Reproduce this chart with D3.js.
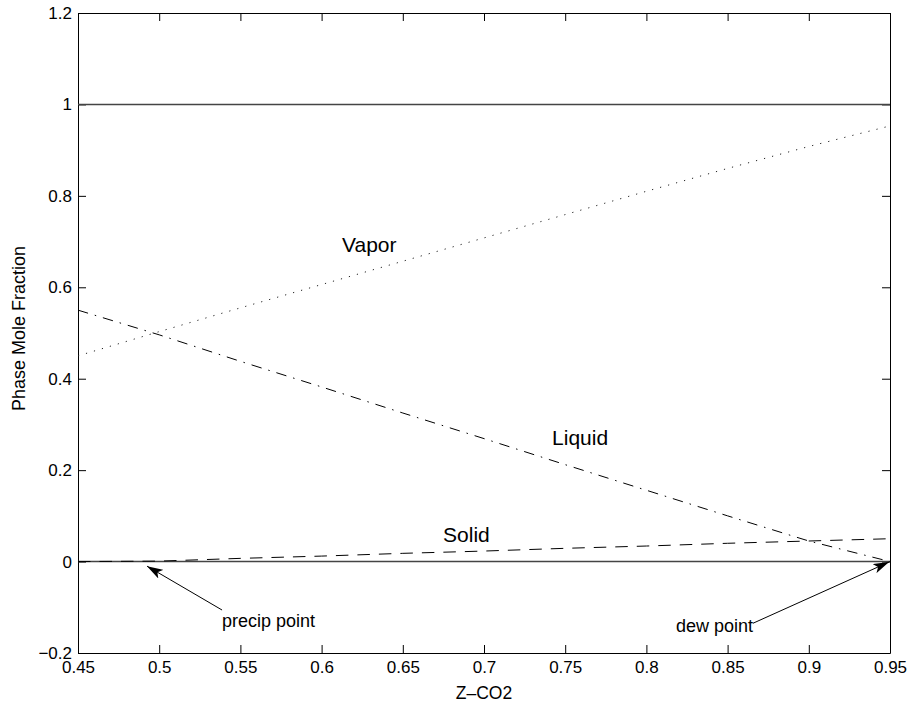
<!DOCTYPE html>
<html>
<head>
<meta charset="utf-8">
<script src="https://cdn.jsdelivr.net/npm/d3@7"></script>
<style>
  body { margin: 0; background: #fff; }
  text { font-family: "Liberation Sans", Arial, Helvetica, sans-serif; }
</style>
</head>
<body>
<script>
// phase split vs overall CO2 mole fraction
var zCO2 = [0.45, 0.50, 0.55, 0.60, 0.65, 0.70, 0.75, 0.80, 0.85, 0.90, 0.95];
var vapor = [0.450, 0.503, 0.555, 0.606, 0.657, 0.708, 0.759, 0.810, 0.860, 0.908, 0.953];
var liquid = [0.550, 0.496, 0.438, 0.382, 0.325, 0.269, 0.212, 0.156, 0.100, 0.045, 0.000];
var solid = [0.000, 0.001, 0.007, 0.012, 0.018, 0.023, 0.029, 0.034, 0.040, 0.045, 0.050];
var refLines = [0, 1];
var xTicks = [0.45, 0.5, 0.55, 0.6, 0.65, 0.7, 0.75, 0.8, 0.85, 0.9, 0.95];
var yTicks = [-0.2, 0, 0.2, 0.4, 0.6, 0.8, 1, 1.2];

var W = 910, H = 702;
var m = {left: 78, right: 20, top: 13, bottom: 49};

var svg = d3.select("body").append("svg")
  .attr("width", W).attr("height", H);

var x = d3.scaleLinear().domain([0.45, 0.95]).range([m.left, W - m.right]);
var y = d3.scaleLinear().domain([-0.2, 1.2]).range([H - m.bottom, m.top]);

var fmtY = function(d) { return d < 0 ? "\u2212" + Math.abs(d) : String(d); };

// axes, ticks pointing inward on all four sides
var gx = svg.append("g").attr("transform", "translate(0," + (H - m.bottom) + ")")
  .call(d3.axisBottom(x).tickValues(xTicks).tickFormat(d3.format("")).tickSizeInner(-8).tickSizeOuter(0).tickPadding(8));
var gy = svg.append("g").attr("transform", "translate(" + m.left + ",0)")
  .call(d3.axisLeft(y).tickValues(yTicks).tickFormat(fmtY).tickSizeInner(-8).tickSizeOuter(0).tickPadding(6));
svg.append("g").attr("transform", "translate(0," + m.top + ")")
  .call(d3.axisTop(x).tickValues(xTicks).tickFormat("").tickSizeInner(-8).tickSizeOuter(0));
svg.append("g").attr("transform", "translate(" + (W - m.right) + ",0)")
  .call(d3.axisRight(y).tickValues(yTicks).tickFormat("").tickSizeInner(-8).tickSizeOuter(0));

svg.selectAll(".domain, .tick line").attr("stroke", "#000").attr("stroke-width", 1);
svg.selectAll(".tick text").attr("font-size", 17).attr("fill", "#000")
  .attr("font-family", "'Liberation Sans', Arial, sans-serif");

// reference lines at 0 and 1
svg.selectAll(".ref").data(refLines).enter().append("line")
  .attr("x1", x(0.45)).attr("x2", x(0.95))
  .attr("y1", function(d) { return y(d); }).attr("y2", function(d) { return y(d); })
  .attr("stroke", "#444").attr("stroke-width", 1.5);

var series = [
  {vals: vapor, dash: "1.2,7.1", color: "#222", w: 1},
  {vals: liquid, dash: "10.5,7,1.5,7", color: "#000", w: 1},
  {vals: solid, dash: "12.5,9", color: "#000", w: 1}
];
var line = d3.line().x(function(d) { return x(d[0]); }).y(function(d) { return y(d[1]); });
series.forEach(function(s) {
  svg.append("path")
    .datum(zCO2.map(function(z, i) { return [z, s.vals[i]]; }))
    .attr("d", line)
    .attr("fill", "none")
    .attr("stroke", s.color)
    .attr("stroke-width", s.w)
    .attr("stroke-dasharray", s.dash);
});

// curve labels
var labels = [
  {t: "Vapor", z: 0.6126, v: 0.677},
  {t: "Liquid", z: 0.7419, v: 0.255},
  {t: "Solid", z: 0.6748, v: 0.043}
];
svg.selectAll(".lab").data(labels).enter().append("text")
  .attr("x", function(d) { return x(d.z); })
  .attr("y", function(d) { return y(d.v); })
  .attr("font-size", 21)
  .text(function(d) { return d.t; });

// annotations with arrows
svg.append("defs").append("marker")
  .attr("id", "head").attr("viewBox", "0 0 16 10")
  .attr("refX", 16).attr("refY", 5)
  .attr("markerWidth", 16).attr("markerHeight", 10)
  .attr("markerUnits", "userSpaceOnUse")
  .attr("orient", "auto")
  .append("path").attr("d", "M0,0 L16,5 L0,10 L4,5 Z").attr("fill", "#000");

var notes = [
  {t: "precip point", tz: 0.5387, tv: -0.143, fz: 0.5387, fv: -0.106, hz: 0.4925, hv: -0.010},
  {t: "dew point", tz: 0.8182, tv: -0.154, fz: 0.8656, fv: -0.135, hz: 0.9494, hv: -0.001}
];
notes.forEach(function(n) {
  svg.append("line")
    .attr("x1", x(n.fz)).attr("y1", y(n.fv))
    .attr("x2", x(n.hz)).attr("y2", y(n.hv))
    .attr("stroke", "#000").attr("stroke-width", 1)
    .attr("marker-end", "url(#head)");
  svg.append("text")
    .attr("x", x(n.tz)).attr("y", y(n.tv))
    .attr("font-size", 18)
    .text(n.t);
});

// axis titles
svg.append("text")
  .attr("x", (x(0.45) + x(0.95)) / 2).attr("y", 699)
  .attr("text-anchor", "middle").attr("font-size", 17.5)
  .text("Z\u2013CO2");
svg.append("text")
  .attr("transform", "translate(25," + 328.5 + ") rotate(-90)")
  .attr("text-anchor", "middle").attr("font-size", 18)
  .text("Phase Mole Fraction");
</script>
</body>
</html>
